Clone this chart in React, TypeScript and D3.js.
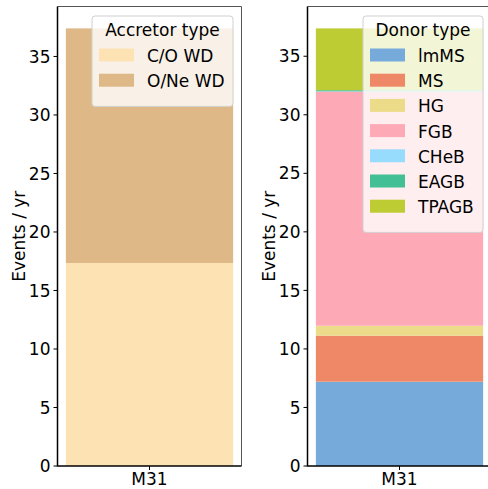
import React from "react";
import * as d3 from "d3";

const categories = ["M31"];
const accretorTypes = ["C/O WD", "O/Ne WD"];
const accretorValues = [17.35, 20.05];
const accretorColors = ["#fde3b4", "#deb887"];

const donorTypes = ["lmMS", "MS", "HG", "FGB", "CHeB", "EAGB", "TPAGB"];
const donorValues = [7.2, 3.93, 0.85, 20.0, 0.02, 0.1, 5.28];
const donorColors = ["#75aadb", "#ef8866", "#ecdc8a", "#fea9b6", "#98dcfd", "#43bf96", "#becc33"];

const yTicks = [0, 5, 10, 15, 20, 25, 30, 35];
const FONT = "DejaVu Sans, sans-serif";
const FS = 17;

type PanelProps = {
  x0: number;
  types: string[];
  values: number[];
  colors: string[];
  title: string;
  legendX: number;
  legendW: number;
};

const TOP = 6.5;
const BOTTOM = 466;
const AXW = 184;

function Panel({ x0, types, values, colors, title, legendX, legendW }: PanelProps) {
  const total = d3.sum(values);
  const y = d3.scaleLinear().domain([0, total * 1.05]).range([BOTTOM, TOP]);
  // bar width 0.8 in xlim [-0.44, 0.44]
  const xl = d3.scaleLinear().domain([-0.44, 0.44]).range([x0, x0 + AXW]);
  const stack = d3.stack<number[]>().keys(types.map((_, i) => String(i))).value((d, k) => d[+k]);
  const series = stack([values]);
  const legendTop = 16;
  const rowH = 25.2;
  const legendH = 36 + types.length * rowH + 4;
  return (
    <g>
      {series.map((s, i) => (
        <rect
          key={i}
          x={xl(-0.4)}
          width={xl(0.4) - xl(-0.4)}
          y={y(s[0][1])}
          height={y(s[0][0]) - y(s[0][1])}
          fill={colors[i]}
        />
      ))}
      {/* spines */}
      <line x1={x0} x2={x0 + AXW} y1={TOP} y2={TOP} stroke="#555" strokeWidth={1} />
      <line x1={x0 + AXW} x2={x0 + AXW} y1={TOP} y2={BOTTOM} stroke="#555" strokeWidth={1} />
      <line x1={x0} x2={x0} y1={TOP} y2={BOTTOM + 0.5} stroke="#000" strokeWidth={1.5} />
      <line x1={x0} x2={x0 + AXW} y1={BOTTOM} y2={BOTTOM} stroke="#000" strokeWidth={1.5} />
      {yTicks.map((t) => (
        <g key={t}>
          <line x1={x0 - 4} x2={x0} y1={y(t)} y2={y(t)} stroke="#000" strokeWidth={1} />
          <text x={x0 - 7} y={y(t)} dy="0.36em" textAnchor="end" fontFamily={FONT} fontSize={FS} fill="#000">
            {t}
          </text>
        </g>
      ))}
      {categories.map((c) => (
        <g key={c}>
          <line x1={xl(0)} x2={xl(0)} y1={BOTTOM} y2={BOTTOM + 4} stroke="#000" strokeWidth={1} />
          <text x={xl(0)} y={485} textAnchor="middle" fontFamily={FONT} fontSize={FS} fill="#000">
            {c}
          </text>
        </g>
      ))}
      <text
        transform={`translate(${x0 - 33},${(TOP + BOTTOM) / 2}) rotate(-90)`}
        textAnchor="middle"
        fontFamily={FONT}
        fontSize={FS}
        fill="#000"
      >
        Events / yr
      </text>
      {/* legend */}
      <rect
        x={legendX}
        y={legendTop}
        width={legendW}
        height={legendH}
        rx={3}
        fill="#fff"
        fillOpacity={0.8}
        stroke="#d0d0d0"
        strokeWidth={1}
      />
      <text x={legendX + legendW / 2} y={36} textAnchor="middle" fontFamily={FONT} fontSize={FS} fill="#000">
        {title}
      </text>
      {types.map((t, i) => (
        <g key={t}>
          <rect x={legendX + 7} y={48.5 + i * rowH} width={35} height={13} fill={colors[i]} />
          <text x={legendX + 55} y={62 + i * rowH} fontFamily={FONT} fontSize={FS} fill="#000">
            {t}
          </text>
        </g>
      ))}
    </g>
  );
}

export default function App() {
  return (
    <svg width={488} height={489} style={{ position: "absolute", left: 0, top: 0, background: "#fff" }}>
      <rect width={488} height={489} fill="#fff" />
      <Panel
        x0={57.5}
        types={accretorTypes}
        values={accretorValues}
        colors={accretorColors}
        title="Accretor type"
        legendX={92}
        legendW={141}
      />
      <Panel
        x0={307.5}
        types={donorTypes}
        values={donorValues}
        colors={donorColors}
        title="Donor type"
        legendX={363}
        legendW={120}
      />
    </svg>
  );
}
